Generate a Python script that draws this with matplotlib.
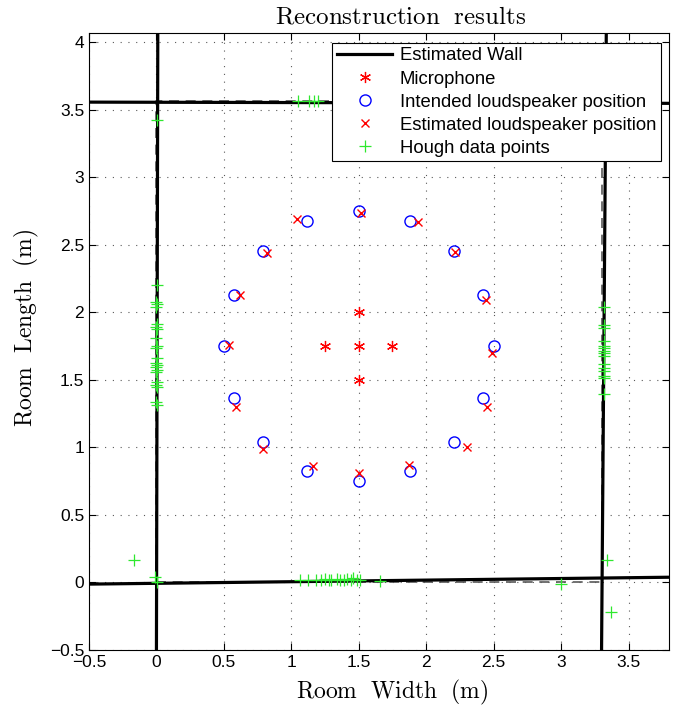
import matplotlib
matplotlib.use("Agg")
import matplotlib.pyplot as plt
import numpy as np

plt.rcParams['mathtext.fontset'] = 'cm'
plt.rcParams['font.family'] = ['Liberation Sans', 'DejaVu Sans']

# ---- data ----
mic_x = [1.5, 1.25, 1.5, 1.75, 1.5]
mic_y = [2.0, 1.75, 1.75, 1.75, 1.5]

intended_x = [1.5, 1.883, 2.207, 2.424, 2.5, 2.424, 2.207, 1.883,
              1.5, 1.117, 0.793, 0.576, 0.5, 0.576, 0.793, 1.117]
intended_y = [2.75, 2.674, 2.457, 2.133, 1.75, 1.367, 1.043, 0.826,
              0.75, 0.826, 1.043, 1.367, 1.75, 2.133, 2.457, 2.674]

estimated_x = [1.52, 1.94, 2.21, 2.44, 2.49, 2.45, 2.30, 1.87,
               1.50, 1.16, 0.79, 0.59, 0.54, 0.62, 0.82, 1.04]
estimated_y = [2.74, 2.67, 2.45, 2.09, 1.70, 1.30, 1.00, 0.87,
               0.81, 0.86, 0.99, 1.30, 1.76, 2.13, 2.44, 2.69]

# Estimated walls: each as (x0, y0, x1, y1)
wall_left = (0.01, 4.07, 0.0, -0.5)
wall_right = (3.335, 4.07, 3.30, -0.5)
wall_top = (-0.5, 3.558, 3.8, 3.549)
wall_bottom = (-0.5, -0.012, 3.8, 0.039)

# True room outline (dashed)
room_x = [0.0, 3.3, 3.3, 0.0, 0.0]
room_y = [0.0, 0.0, 3.57, 3.57, 0.0]

# Hough data points
hough_left_y = [2.205, 2.081, 2.064, 2.044, 1.913, 1.896, 1.879, 1.810, 1.752,
                1.735, 1.661, 1.629, 1.612, 1.595, 1.575, 1.558, 1.488, 1.464,
                1.447, 1.340, 1.315]
hough_left_x = [0.005, 0.0, 0.005, 0.0, 0.005, 0.0, 0.005, 0.0, 0.005,
                0.0, 0.005, 0.0, 0.005, 0.0, 0.005, 0.0, 0.005, 0.0,
                0.005, 0.0, 0.005]
hough_right_y = [2.044, 1.908, 1.884, 1.790, 1.753, 1.736, 1.718, 1.698, 1.681,
                 1.617, 1.587, 1.570, 1.530, 1.513, 1.395]
hough_right_x = [3.318, 3.315, 3.318, 3.315, 3.318, 3.315, 3.318, 3.315, 3.318,
                 3.315, 3.318, 3.315, 3.318, 3.315, 3.318]
hough_bottom_x = [1.066, 1.126, 1.185, 1.220, 1.252, 1.277, 1.294, 1.339,
                  1.363, 1.388, 1.413, 1.445, 1.458, 1.487, 1.512, 1.660]
hough_bottom_y = [0.015, 0.02, 0.015, 0.02, 0.025, 0.015, 0.02, 0.025,
                  0.02, 0.015, 0.025, 0.02, 0.03, 0.02, 0.015, 0.01]
hough_top_x = [1.05, 1.13, 1.17, 1.20]
hough_top_y = [3.568, 3.568, 3.568, 3.568]
hough_other_x = [0.002, -0.17, -0.01, 0.005, 3.343, 3.37, 2.997]
hough_other_y = [3.422, 0.17, 0.04, 0.0, 0.167, -0.216, -0.013]

xticks = [-0.5, 0, 0.5, 1, 1.5, 2, 2.5, 3, 3.5]
xticklabels = ['\u22120.5', '0', '0.5', '1', '1.5', '2', '2.5', '3', '3.5']
yticks = [-0.5, 0, 0.5, 1, 1.5, 2, 2.5, 3, 3.5, 4]
yticklabels = ['\u22120.5', '0', '0.5', '1', '1.5', '2', '2.5', '3', '3.5', '4']

# ---- figure ----
fig = plt.figure(figsize=(6.79, 7.09), dpi=100)
ax = fig.add_axes([89/679, 1 - 650/709, 580/679, 617/709])

ax.set_xlim(-0.5, 3.8)
ax.set_ylim(-0.5, 4.07)

ax.grid(True, color='0.35', linestyle=(0, (1, 6)), linewidth=0.8)
ax.set_axisbelow(True)

ax.plot(room_x, room_y, color='0.35', linestyle=(0, (6, 4)), linewidth=1.2, zorder=2)

hw = None
for w in (wall_left, wall_right, wall_top, wall_bottom):
    ln, = ax.plot([w[0], w[2]], [w[1], w[3]], color='black', linewidth=2.3, zorder=3)
    if hw is None:
        hw = ln

hm, = ax.plot(mic_x, mic_y, linestyle='none', marker=(6, 2, 0), color='red',
              markersize=8, markeredgewidth=0.9, zorder=5)
hi, = ax.plot(intended_x, intended_y, linestyle='none', marker='o', markerfacecolor='none',
              markeredgecolor='blue', markersize=8, markeredgewidth=1.0, zorder=4)
he, = ax.plot(estimated_x, estimated_y, linestyle='none', marker='x', color='red',
              markersize=6, markeredgewidth=1.0, zorder=5)

hx = hough_left_x + hough_right_x + hough_bottom_x + hough_top_x + hough_other_x
hy = hough_left_y + hough_right_y + hough_bottom_y + hough_top_y + hough_other_y
hh, = ax.plot(hx, hy, linestyle='none', marker='+', color='#2ee82e',
              markersize=9, markeredgewidth=0.9, zorder=6)

ax.set_xticks(xticks)
ax.set_xticklabels(xticklabels)
ax.set_yticks(yticks)
ax.set_yticklabels(yticklabels)
ax.tick_params(direction='in', length=5, width=0.8, top=True, right=True,
               labelsize=12.5, colors='black')
for s in ax.spines.values():
    s.set_linewidth(0.8)

t = ax.set_title(r'$\mathrm{Reconstruction\ \ results}$', fontsize=18, pad=7)
t.set_x(0.538)
ax.set_xlabel(r'$\mathrm{Room\ \ Width\ \ (m)}$', fontsize=17, labelpad=4)
ax.xaxis.set_label_coords(0.522, -0.045)
ax.set_ylabel(r'$\mathrm{Room\ \ Length\ \ (m)}$', fontsize=17, labelpad=6)
ax.yaxis.label.set_y(0.523)

leg = ax.legend([hw, hm, hi, he, hh],
                ['Estimated Wall', 'Microphone', 'Intended loudspeaker position',
                 'Estimated loudspeaker position', 'Hough data points'],
                loc='upper right', bbox_to_anchor=(0.986, 0.984), borderaxespad=0,
                fontsize=13.3, fancybox=False, framealpha=1, edgecolor='black',
                handlelength=3.0, labelspacing=0.33, borderpad=0.25, handletextpad=0.4)
leg.get_frame().set_linewidth(0.8)
leg.set_zorder(10)

fig.savefig('out.png', dpi=100)
